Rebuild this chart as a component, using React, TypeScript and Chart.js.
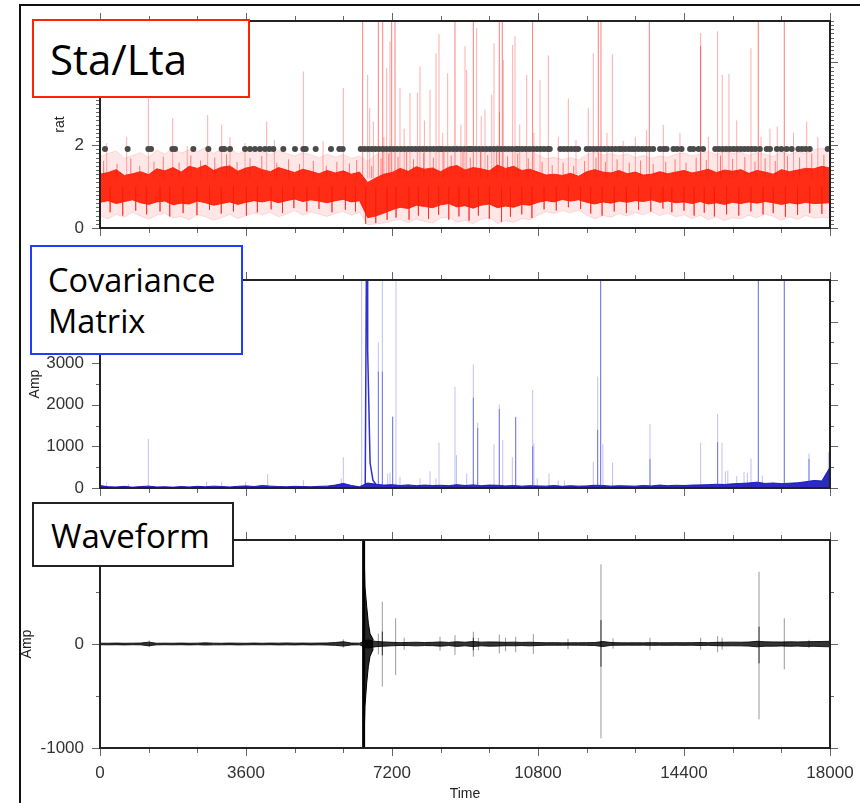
import React, { useEffect, useRef } from 'react';
import { Chart, registerables } from 'chart.js';

Chart.register(...registerables);

const tickFont = '"Liberation Sans", Arial, Helvetica, sans-serif';
const boxFont = '"Open Sans", "Noto Sans", sans-serif';

// ---------- shared time axis (s) ----------
const timeMin = 0;
const timeMax = 18000;
const timeTicks = [0, 3600, 7200, 10800, 14400, 18000];
const timeMinorStep = 1200;
const timeMajorStep = 3600;

// sampling instants of the envelope traces
const envTime = [
  0, 200, 400, 600, 800, 1000, 1200, 1400, 1600, 1800,
  2000, 2200, 2400, 2600, 2800, 3000, 3200, 3400, 3600, 3800,
  4000, 4200, 4400, 4600, 4800, 5000, 5200, 5400, 5600, 5800,
  6000, 6200, 6400, 6600, 6800, 7000, 7200, 7400, 7600, 7800,
  8000, 8200, 8400, 8600, 8800, 9000, 9200, 9400, 9600, 9800,
  10000, 10200, 10400, 10600, 10800, 11000, 11200, 11400, 11600, 11800,
  12000, 12200, 12400, 12600, 12800, 13000, 13200, 13400, 13600, 13800,
  14000, 14200, 14400, 14600, 14800, 15000, 15200, 15400, 15600, 15800,
  16000, 16200, 16400, 16600, 16800, 17000, 17200, 17400, 17600, 17800,
  18000,
];

// ---------- Sta/Lta ratio ----------
const staYTicks = [0, 2, 4];
const staYMax = 5;
const staTriggerLevel = 1.91;
const staSpikeBase = 1.2;
const staDipBase = 1.0;

const staCoreHi = [
  1.30, 1.34, 1.41, 1.27, 1.31, 1.36, 1.29, 1.43, 1.38, 1.46,
  1.35, 1.49, 1.44, 1.52, 1.39, 1.47, 1.50, 1.37, 1.45, 1.49,
  1.41, 1.36, 1.46, 1.40, 1.34, 1.42, 1.37, 1.31, 1.39, 1.33,
  1.38, 1.30, 1.35, 1.10, 1.21, 1.30, 1.34, 1.44, 1.37, 1.48,
  1.42, 1.45, 1.36, 1.47, 1.51, 1.40, 1.46, 1.43, 1.38, 1.52,
  1.44, 1.49, 1.39, 1.42, 1.35, 1.28, 1.30, 1.27, 1.32, 1.25,
  1.36, 1.41, 1.35, 1.33, 1.39, 1.31, 1.35, 1.28, 1.30, 1.36,
  1.31, 1.35, 1.39, 1.33, 1.37, 1.42, 1.34, 1.40, 1.37, 1.41,
  1.32, 1.39, 1.35, 1.30, 1.41, 1.36, 1.40, 1.44, 1.43, 1.49,
  1.45,
];
const staCoreLo = [
  0.62, 0.66, 0.59, 0.64, 0.68, 0.61, 0.57, 0.63, 0.65, 0.56,
  0.60, 0.58, 0.65, 0.61, 0.55, 0.59, 0.63, 0.57, 0.62, 0.66,
  0.63, 0.67, 0.61, 0.66, 0.70, 0.64, 0.68, 0.65, 0.61, 0.66,
  0.69, 0.63, 0.66, 0.25, 0.29, 0.36, 0.44, 0.50, 0.47, 0.55,
  0.52, 0.49, 0.56, 0.59, 0.51, 0.54, 0.48, 0.55, 0.58, 0.49,
  0.53, 0.50, 0.57, 0.55, 0.62, 0.66, 0.63, 0.69, 0.65, 0.68,
  0.62, 0.58, 0.63, 0.60, 0.65, 0.62, 0.66, 0.64, 0.68, 0.62,
  0.65, 0.61, 0.63, 0.59, 0.64, 0.58, 0.61, 0.57, 0.62, 0.59,
  0.63, 0.60, 0.64, 0.61, 0.57, 0.61, 0.58, 0.62, 0.59, 0.60,
  0.61,
];
const staLightHi = [
  1.72, 1.80, 1.86, 1.68, 1.75, 1.82, 1.70, 1.88, 1.79, 1.92,
  1.81, 1.89, 1.84, 1.95, 1.80, 1.90, 1.93, 1.79, 1.86, 1.92,
  1.84, 1.77, 1.88, 1.80, 1.74, 1.82, 1.77, 1.69, 1.78, 1.71,
  1.77, 1.68, 1.74, 1.60, 1.76, 1.84, 1.90, 1.87, 1.95, 1.91,
  1.98, 1.89, 1.94, 1.88, 1.99, 1.87, 1.95, 1.90, 1.85, 2.00,
  1.90, 1.95, 1.84, 1.88, 1.76, 1.67, 1.71, 1.65, 1.70, 1.64,
  1.77, 1.83, 1.76, 1.80, 1.74, 1.79, 1.70, 1.75, 1.68, 1.74,
  1.71, 1.78, 1.81, 1.74, 1.79, 1.85, 1.77, 1.86, 1.80, 1.83,
  1.75, 1.82, 1.78, 1.72, 1.84, 1.77, 1.85, 1.80, 1.89, 1.93,
  1.86,
];
const staLightLo = [
  0.30, 0.22, 0.33, 0.26, 0.38, 0.29, 0.21, 0.31, 0.35, 0.24,
  0.28, 0.20, 0.32, 0.27, 0.19, 0.25, 0.33, 0.23, 0.30, 0.36,
  0.32, 0.38, 0.27, 0.34, 0.42, 0.31, 0.39, 0.33, 0.28, 0.35,
  0.40, 0.31, 0.38, 0.08, 0.10, 0.12, 0.17, 0.21, 0.13, 0.22,
  0.16, 0.12, 0.24, 0.26, 0.14, 0.19, 0.10, 0.21, 0.25, 0.11,
  0.18, 0.13, 0.23, 0.20, 0.31, 0.39, 0.35, 0.42, 0.37, 0.43,
  0.31, 0.22, 0.30, 0.26, 0.35, 0.29, 0.37, 0.32, 0.40, 0.30,
  0.36, 0.27, 0.32, 0.23, 0.31, 0.20, 0.27, 0.18, 0.25, 0.22,
  0.31, 0.25, 0.34, 0.28, 0.19, 0.27, 0.21, 0.30, 0.24, 0.26,
  0.25,
];

// short streaks poking out of the dense band: [time, tip]
const staEdgeUp = [
  [90, 1.62], [420, 1.55], [760, 1.68], [980, 1.5], [1330, 1.6], [1560, 1.72], [1950, 1.58],
  [2240, 1.75], [2480, 1.63], [2830, 1.7], [3120, 1.78], [3380, 1.6], [3700, 1.69], [3990, 1.74],
  [4360, 1.57], [4650, 1.66], [4920, 1.55], [5260, 1.62], [5580, 1.5], [5840, 1.6], [6150, 1.56],
  [6330, 1.64], [6700, 1.5], [6930, 1.68], [7120, 1.8], [7350, 1.72], [7560, 1.85], [7730, 1.66],
  [7980, 1.82], [8220, 1.7], [8480, 1.88], [8660, 1.75], [8950, 1.84], [9130, 1.7], [9380, 1.9],
  [9560, 1.76], [9780, 1.86], [10050, 1.73], [10300, 1.8], [10560, 1.68], [10900, 1.6], [11150, 1.52],
  [11420, 1.58], [11680, 1.5], [11950, 1.62], [12230, 1.7], [12460, 1.6], [12750, 1.66], [13050, 1.58],
  [13330, 1.63], [13640, 1.55], [13950, 1.6], [14180, 1.66], [14450, 1.58], [14700, 1.7], [14950, 1.64],
  [15300, 1.75], [15600, 1.67], [15900, 1.72], [16150, 1.6], [16400, 1.68], [16650, 1.62], [16950, 1.74],
  [17250, 1.7], [17550, 1.8], [17850, 1.77],
];
const staEdgeDown = [
  [250, 0.38], [560, 0.3], [880, 0.42], [1150, 0.33], [1480, 0.4], [1720, 0.28], [2050, 0.36],
  [2390, 0.31], [2700, 0.44], [2990, 0.35], [3290, 0.4], [3610, 0.3], [3880, 0.38], [4220, 0.45],
  [4500, 0.36], [4780, 0.48], [5100, 0.4], [5400, 0.46], [5720, 0.38], [6050, 0.44], [6300, 0.4],
  [6550, 0.1], [6800, 0.12], [7080, 0.2], [7300, 0.25], [7620, 0.2], [7850, 0.3], [8100, 0.22],
  [8350, 0.32], [8600, 0.2], [8850, 0.28], [9100, 0.18], [9330, 0.3], [9600, 0.22], [9900, 0.15],
  [10120, 0.27], [10400, 0.33], [10650, 0.24], [10950, 0.45], [11250, 0.42], [11550, 0.5], [11850, 0.46],
  [12100, 0.35], [12380, 0.3], [12680, 0.4], [12980, 0.36], [13280, 0.44], [13580, 0.4], [13880, 0.47],
  [14100, 0.38], [14400, 0.42], [14650, 0.3], [14900, 0.37], [15150, 0.28], [15450, 0.33], [15750, 0.3],
  [16050, 0.4], [16350, 0.33], [16600, 0.36], [16900, 0.27], [17200, 0.32], [17500, 0.36], [17800, 0.34],
];

// [time, peak]
const staSpikesFaint = [
  [165, 2.05], [658, 2.2], [1192, 3.14], [1792, 2.65], [2150, 1.98], [2655, 2.73],
  [3000, 2.49], [3205, 2.2], [3575, 2.05], [4110, 2.57], [4300, 2.12], [5014, 3.78],
  [5500, 2.1], [6000, 3.38], [6600, 3.7], [6650, 2.9], [6740, 2.57], [7000, 2.2],
  [7068, 3.86], [7150, 4.5], [7397, 3.38], [7500, 2.4], [7644, 3.26], [7825, 3.26],
  [7890, 3.9], [8000, 2.6], [8137, 3.34], [8285, 4.22], [8359, 4.68], [8450, 2.3],
  [8573, 3.74], [8900, 2.5], [9000, 4.39], [9041, 3.82], [9287, 4.83], [9400, 2.7],
  [9493, 2.86], [9658, 3.22], [9715, 4.46], [9850, 2.8], [9945, 4.06], [10175, 4.42],
  [10233, 4.63], [10350, 2.5], [10521, 3.7], [10700, 2.3], [10849, 3.58], [11055, 4.17],
  [11300, 2.2], [11548, 3.13], [11737, 2.13], [12040, 2.9], [12164, 4.22], [12500, 2.3],
  [12633, 4.2], [12900, 2.1], [13200, 2.2], [13479, 2.37], [13890, 2.49], [14300, 2.3],
  [14809, 4.71], [15000, 2.2], [15229, 4.75], [15343, 3.7], [15508, 3.72], [15700, 2.6],
  [16051, 4.34], [16300, 2.2], [16520, 2.4], [16700, 2.45], [17100, 2.3], [17425, 2.57],
  [17700, 2.2],
];
const staSpikesStrong = [
  [6477, 5.5], [6863, 5.5], [6970, 5.5], [7192, 5.5], [7274, 5.5], [8753, 5.5],
  [9205, 5.5], [9846, 5.5], [9920, 5.5], [10667, 5.5], [12287, 5.5], [12353, 5.5],
  [13545, 5.5], [14809, 4.4], [16232, 5.5], [16873, 5.5],
];

const staTriggerTimes = [
  123, 682, 1192, 1258, 1784, 1849, 2301, 2671, 3000, 3066, 3205, 3575, 3699, 3822,
  3945, 4068, 4175, 4274, 4520, 4808, 5014, 5072, 5318, 5696, 5901, 5984,
  6430, 6520, 6610, 6700, 6790, 6880, 6970, 7060, 7150, 7240, 7330, 7420, 7510, 7600,
  7690, 7780, 7870, 7960, 8050, 8140, 8230, 8320, 8390,
  8440, 8530, 8620, 8710, 8800, 8890, 8980, 9070, 9120,
  9170, 9260, 9350, 9440, 9530, 9620, 9710, 9800, 9890, 9980, 10070, 10160, 10260,
  10320, 10410, 10500, 10590, 10680, 10770, 10860, 10950, 11040, 11090,
  11350, 11440, 11530, 11620, 11710, 11790,
  12000, 12080, 12170, 12260, 12350, 12440, 12530, 12620, 12710, 12800, 12860,
  12950, 13040, 13120, 13190,
  13280, 13370, 13460, 13550, 13640,
  13810, 13900, 13970,
  14140, 14230, 14340,
  14550, 14630,
  14760, 14870,
  15170, 15260, 15350, 15440, 15530, 15620, 15710, 15800, 15890, 15980, 16070, 16160, 16270,
  16440, 16520,
  16690, 16800, 16930,
  17055,
  17220, 17310, 17400, 17500,
  17943,
];

// ---------- covariance matrix amplitude ----------
const covYTicks = [0, 1000, 2000, 3000, 4000, 5000];
const covYMax = 5000;

const covBaseHi = [
  60, 30, 25, 40, 20, 35, 45, 25, 30, 20,
  35, 25, 40, 30, 45, 35, 25, 40, 50, 35,
  60, 45, 35, 30, 40, 35, 30, 40, 45, 70,
  110, 60, 30, 120, 90, 70, 80, 60, 75, 55,
  70, 60, 65, 55, 80, 60, 75, 55, 70, 65,
  50, 60, 45, 55, 50, 45, 60, 40, 55, 45,
  50, 65, 60, 45, 55, 50, 45, 60, 50, 70,
  55, 65, 60, 70, 75, 80, 90, 85, 100, 110,
  120, 140, 110, 120, 105, 115, 125, 150, 180, 170,
  500,
];

// [time, peak]
const covSpikesFaint = [
  [165, 150], [699, 100], [1192, 1180], [2630, 150], [3000, 150], [3592, 150],
  [4134, 335], [5014, 190], [5950, 230], [6000, 740], [6452, 5500], [6863, 3500],
  [6962, 5500], [7093, 350], [7151, 370], [7216, 1715], [7298, 5500], [7397, 270],
  [7890, 230], [8137, 400], [8285, 230], [8359, 1090], [8753, 2435], [8790, 790],
  [9041, 350], [9205, 2970], [9313, 1570], [9715, 1050], [9846, 2010], [9929, 1150],
  [10167, 740], [10250, 1715], [10669, 2355], [10700, 1070], [10780, 230], [11071, 350],
  [11300, 180], [11450, 180], [12164, 630], [12271, 2680], [12345, 5500], [12400, 1050],
  [12638, 610], [13562, 1540], [14810, 1090], [15229, 1780], [15337, 1090], [15420, 400],
  [15480, 420], [15700, 290], [15880, 385], [15962, 360], [16052, 710], [16233, 5500],
  [16330, 300], [16873, 5500], [17482, 830], [17959, 860],
];
const covSpikesStrong = [
  [6863, 2800], [6962, 2800], [7216, 1715], [9205, 2170], [9313, 1440], [9846, 1900],
  [10250, 1700], [10669, 1000], [12271, 1400], [12345, 5500], [13562, 700], [15229, 1100],
  [16233, 5500], [16873, 5500], [17482, 700],
];

// main event and its decay
const covEventTime = [6540, 6570, 6590, 6600, 6660, 6730, 6800];
const covEventAmp = [80, 5500, 5500, 3300, 600, 190, 90];

// ---------- waveform ----------
const wavYTicks = [-1000, 0, 1000];
const wavYMin = -1000;
const wavYMax = 1000;

const wavNoiseHi = [
  8, 7, 9, 7, 8, 9, 18, 7, 8, 7,
  9, 7, 8, 11, 8, 7, 9, 8, 7, 9,
  7, 9, 8, 10, 8, 9, 8, 9, 10, 14,
  22, 9, 8, 40, 25, 20, 16, 13, 15, 17,
  14, 16, 20, 15, 22, 17, 24, 18, 20, 19,
  16, 18, 15, 17, 14, 12, 13, 11, 12, 12,
  13, 14, 24, 14, 12, 11, 12, 11, 13, 12,
  12, 13, 12, 13, 14, 13, 16, 17, 18, 17,
  19, 26, 21, 20, 19, 21, 20, 22, 23, 24,
  26,
];
const wavNoiseLo = [
  -7, -8, -7, -9, -7, -8, -17, -8, -7, -8,
  -7, -9, -7, -10, -8, -8, -7, -9, -8, -7,
  -8, -7, -9, -8, -9, -7, -9, -8, -10, -13,
  -20, -9, -8, -40, -26, -21, -17, -14, -15, -18,
  -15, -16, -21, -15, -23, -17, -25, -17, -21, -20,
  -16, -17, -15, -18, -14, -12, -12, -12, -11, -12,
  -13, -15, -25, -13, -12, -11, -12, -11, -13, -12,
  -13, -12, -13, -12, -14, -13, -16, -18, -17, -18,
  -20, -27, -21, -21, -19, -22, -20, -23, -22, -25,
  -27,
];

// [time, high, low]
const wavMainEvent = [[6500, 1100, -1100]];
const wavEventTime = [6500, 6534, 6576, 6617, 6658, 6740];
const wavEventHi = [1100, 550, 360, 200, 100, 40];
const wavEventLo = [-1100, -600, -375, -215, -120, -45];

const wavSpikesFaint = [
  [1216, 35, -30], [6000, 45, -35], [6863, 100, -100], [6961, 407, -410], [7290, 247, -298],
  [7500, 60, -55], [8384, 70, -65], [8753, 85, -105], [9205, 118, -122], [9330, 60, -60],
  [9846, 90, -90], [10000, 60, -70], [10250, 70, -80], [10685, 95, -95], [11540, 50, -50],
  [12353, 766, -908], [12650, 55, -45], [13562, 60, -60], [14810, 60, -55], [15229, 75, -80],
  [15340, 60, -55], [16250, 695, -725], [16873, 247, -244], [17482, 40, -40],
];
const wavSpikesStrong = [
  [6961, 120, -110], [9205, 60, -60], [12353, 230, -218], [16250, 166, -186],
];

// ---------- helpers that turn the arrays into chart data ----------
const pts = (ts: number[], vs: number[]) => ts.map((t, i) => ({ x: t, y: vs[i] }));
const spikeSegments = (list: number[][], base: number) =>
  list.flatMap(([t, top]) => [{ x: t, y: base }, { x: t, y: top }, { x: t, y: null }]);
const rangeSegments = (list: number[][]) =>
  list.flatMap(([t, hi, lo]) => [{ x: t, y: lo }, { x: t, y: hi }, { x: t, y: null }]);

const isMultiple = (v: number, step: number) => Math.abs(v / step - Math.round(v / step)) < 1e-6;

// frame with outward ticks on all four sides
function gmtFrame(yMinorStep: number, yMajorStep: number) {
  return {
    id: 'gmtFrame',
    afterDatasetsDraw(chart: any) {
      const { ctx, chartArea: a, scales } = chart;
      const xs = scales.x;
      const ys = scales.y;
      ctx.save();
      ctx.strokeStyle = '#666';
      ctx.lineWidth = 1;
      ctx.beginPath();
      const nx = Math.round((timeMax - timeMin) / timeMinorStep);
      for (let i = 0; i <= nx; i++) {
        const v = timeMin + i * timeMinorStep;
        const px = Math.round(xs.getPixelForValue(v)) + 0.5;
        const len = isMultiple(v, timeMajorStep) ? 8 : 5;
        ctx.moveTo(px, a.top);
        ctx.lineTo(px, a.top - len);
        ctx.moveTo(px, a.bottom);
        ctx.lineTo(px, a.bottom + len);
      }
      const ny = Math.round((ys.max - ys.min) / yMinorStep);
      for (let i = 0; i <= ny; i++) {
        const v = ys.min + i * yMinorStep;
        const py = Math.round(ys.getPixelForValue(v)) + 0.5;
        const len = isMultiple(v, yMajorStep) ? 8 : 4;
        ctx.moveTo(a.left, py);
        ctx.lineTo(a.left - len, py);
        ctx.moveTo(a.right, py);
        ctx.lineTo(a.right + len, py);
      }
      ctx.stroke();
      ctx.strokeStyle = '#222';
      ctx.lineWidth = 2;
      ctx.strokeRect(a.left, a.top, a.right - a.left, a.bottom - a.top);
      ctx.restore();
    },
  };
}

// the plot area is fixed by the layout padding alone
const noScalePadding = (s: any) => {
  s.paddingLeft = 0;
  s.paddingRight = 0;
  s.paddingTop = 0;
  s.paddingBottom = 0;
};

type PanelSpec = {
  datasets: any[];
  yMin: number;
  yMax: number;
  yTicks: number[];
  yMinorStep: number;
  yMajorStep: number;
  yTitle: string;
  yTitleGap: number;
  padTop: number;
  padBottom: number;
  showTime: boolean;
};

function buildConfig(p: PanelSpec): any {
  return {
    type: 'line',
    data: { datasets: p.datasets },
    options: {
      responsive: false,
      animation: false,
      events: [],
      layout: { padding: { left: 10, right: 30, top: p.padTop, bottom: p.padBottom } },
      plugins: { legend: { display: false }, tooltip: { enabled: false } },
      elements: { point: { radius: 0, hoverRadius: 0 }, line: { tension: 0 } },
      scales: {
        x: {
          type: 'linear',
          min: timeMin,
          max: timeMax,
          grid: { display: false, drawTicks: false },
          border: { display: false },
          afterBuildTicks: (s: any) => {
            s.ticks = timeTicks.map((v) => ({ value: v }));
          },
          afterFit: (s: any) => {
            s.height = p.showTime ? 55 : 0;
            noScalePadding(s);
          },
          ticks: {
            display: p.showTime,
            autoSkip: false,
            maxRotation: 0,
            minRotation: 0,
            padding: 15,
            color: '#333',
            font: { family: tickFont, size: 17 },
            callback: (v: any) => String(v),
          },
          title: {
            display: p.showTime,
            text: 'Time',
            color: '#222',
            font: { family: tickFont, size: 14 },
            padding: { top: 0, bottom: 0 },
          },
        },
        y: {
          type: 'linear',
          min: p.yMin,
          max: p.yMax,
          grid: { display: false, drawTicks: false },
          border: { display: false },
          afterBuildTicks: (s: any) => {
            s.ticks = p.yTicks.map((v) => ({ value: v }));
          },
          afterFit: (s: any) => {
            s.width = 90;
            noScalePadding(s);
          },
          ticks: {
            autoSkip: false,
            padding: 16,
            color: '#333',
            font: { family: tickFont, size: 17 },
            callback: (v: any) => String(v),
          },
          title: {
            display: true,
            text: p.yTitle,
            color: '#222',
            font: { family: tickFont, size: 14 },
            padding: { top: p.yTitleGap, bottom: 0 },
          },
        },
      },
    },
    plugins: [gmtFrame(p.yMinorStep, p.yMajorStep)],
  };
}

const staDatasets = () => [
  {
    data: staTriggerTimes.map((t) => ({ x: t, y: staTriggerLevel })),
    showLine: false,
    pointRadius: 3,
    pointBackgroundColor: '#4a4a4a',
    pointBorderWidth: 0,
    order: 0,
  },
  { data: spikeSegments(staSpikesStrong, staSpikeBase), borderColor: 'rgba(255,40,40,0.6)', borderWidth: 1, order: 1 },
  {
    data: pts(envTime, staCoreHi),
    borderColor: 'rgba(255,30,10,0.9)',
    borderWidth: 1,
    backgroundColor: 'rgba(255,24,0,0.9)',
    fill: '+1',
    order: 2,
  },
  { data: pts(envTime, staCoreLo), borderColor: 'rgba(255,30,10,0.9)', borderWidth: 1, order: 2 },
  { data: spikeSegments(staEdgeUp, staSpikeBase), borderColor: 'rgba(255,30,20,0.55)', borderWidth: 1, order: 3 },
  { data: spikeSegments(staEdgeDown, staDipBase), borderColor: 'rgba(255,30,20,0.55)', borderWidth: 1, order: 3 },
  { data: spikeSegments(staSpikesFaint, staSpikeBase), borderColor: 'rgba(255,50,50,0.4)', borderWidth: 1, order: 3 },
  {
    data: pts(envTime, staLightHi),
    borderColor: 'rgba(255,60,60,0.16)',
    borderWidth: 1,
    backgroundColor: 'rgba(255,70,70,0.13)',
    fill: '+1',
    order: 4,
  },
  { data: pts(envTime, staLightLo), borderColor: 'rgba(255,60,60,0.16)', borderWidth: 1, order: 4 },
];

const covDatasets = () => [
  { data: pts(covEventTime, covEventAmp), borderColor: 'rgba(25,25,200,0.9)', borderWidth: 1.5, order: 0 },
  { data: spikeSegments(covSpikesStrong, 0), borderColor: 'rgba(60,60,220,0.6)', borderWidth: 1, order: 1 },
  {
    data: pts(envTime, covBaseHi),
    borderColor: 'rgba(20,20,190,0.95)',
    borderWidth: 1,
    backgroundColor: 'rgba(20,20,190,0.9)',
    fill: 'origin',
    order: 2,
  },
  { data: spikeSegments(covSpikesFaint, 0), borderColor: 'rgba(90,90,230,0.38)', borderWidth: 1, order: 3 },
];

const wavDatasets = () => [
  { data: rangeSegments(wavMainEvent), borderColor: '#000', borderWidth: 3, order: 0 },
  {
    data: pts(wavEventTime, wavEventHi),
    borderColor: '#000',
    borderWidth: 1,
    backgroundColor: 'rgba(0,0,0,0.85)',
    fill: '+1',
    order: 1,
  },
  { data: pts(wavEventTime, wavEventLo), borderColor: '#000', borderWidth: 1, order: 1 },
  { data: rangeSegments(wavSpikesStrong), borderColor: 'rgba(0,0,0,0.75)', borderWidth: 1, order: 1 },
  {
    data: pts(envTime, wavNoiseHi),
    borderColor: 'rgba(0,0,0,0.85)',
    borderWidth: 1,
    backgroundColor: 'rgba(0,0,0,0.8)',
    fill: '+1',
    order: 2,
  },
  { data: pts(envTime, wavNoiseLo), borderColor: 'rgba(0,0,0,0.85)', borderWidth: 1, order: 2 },
  { data: rangeSegments(wavSpikesFaint), borderColor: 'rgba(0,0,0,0.4)', borderWidth: 1, order: 3 },
];

const boxBase: React.CSSProperties = {
  position: 'absolute',
  boxSizing: 'border-box',
  background: '#fff',
  zIndex: 2,
};
const textBase: React.CSSProperties = {
  position: 'absolute',
  fontFamily: boxFont,
  color: '#000',
  whiteSpace: 'pre',
  zIndex: 3,
};

export default function App() {
  const c1 = useRef<HTMLCanvasElement>(null);
  const c2 = useRef<HTMLCanvasElement>(null);
  const c3 = useRef<HTMLCanvasElement>(null);

  useEffect(() => {
    const charts = [
      new Chart(
        c1.current as HTMLCanvasElement,
        buildConfig({
          datasets: staDatasets(),
          yMin: 0,
          yMax: staYMax,
          yTicks: staYTicks,
          yMinorStep: 0.1,
          yMajorStep: 2,
          yTitle: 'rat',
          yTitleGap: 41.6,
          padTop: 21,
          padBottom: 17,
          showTime: false,
        })
      ),
      new Chart(
        c2.current as HTMLCanvasElement,
        buildConfig({
          datasets: covDatasets(),
          yMin: 0,
          yMax: covYMax,
          yTicks: covYTicks,
          yMinorStep: 500,
          yMajorStep: 1000,
          yTitle: 'Amp',
          yTitleGap: 16.6,
          padTop: 35,
          padBottom: 17,
          showTime: false,
        })
      ),
      new Chart(
        c3.current as HTMLCanvasElement,
        buildConfig({
          datasets: wavDatasets(),
          yMin: wavYMin,
          yMax: wavYMax,
          yTicks: wavYTicks,
          yMinorStep: 500,
          yMajorStep: 1000,
          yTitle: 'Amp',
          yTitleGap: 8.6,
          padTop: 35,
          padBottom: 0,
          showTime: true,
        })
      ),
    ];
    return () => charts.forEach((c) => c.destroy());
  }, []);

  return (
    <div
      style={{
        position: 'absolute',
        left: 0,
        top: 0,
        width: 860,
        height: 803,
        overflow: 'hidden',
        background: '#fff',
      }}
    >
      <div
        style={{
          position: 'absolute',
          left: 19,
          top: 4,
          width: 900,
          height: 900,
          borderLeft: '2px solid #111',
          borderTop: '2px solid #111',
        }}
      />
      <canvas ref={c1} width={860} height={245} style={{ position: 'absolute', left: 0, top: 0 }} />
      <canvas ref={c2} width={860} height={260} style={{ position: 'absolute', left: 0, top: 245 }} />
      <canvas ref={c3} width={860} height={298} style={{ position: 'absolute', left: 0, top: 505 }} />

      <div style={{ ...boxBase, left: 32, top: 19, width: 218, height: 79, border: '2px solid #ff2400' }} />
      <div style={{ ...textBase, left: 50, top: 31, fontSize: 42, lineHeight: '56px' }}>Sta/Lta</div>

      <div style={{ ...boxBase, left: 30, top: 245, width: 213, height: 110, border: '2px solid #1f3cff' }} />
      <div style={{ ...textBase, left: 48, top: 258.5, fontSize: 32.5, lineHeight: '41.3px' }}>
        {'Covariance\nMatrix'}
      </div>

      <div style={{ ...boxBase, left: 32, top: 502, width: 202, height: 65, border: '2px solid #222' }} />
      <div style={{ ...textBase, left: 51, top: 515, fontSize: 33, lineHeight: '41.3px' }}>Waveform</div>
    </div>
  );
}
